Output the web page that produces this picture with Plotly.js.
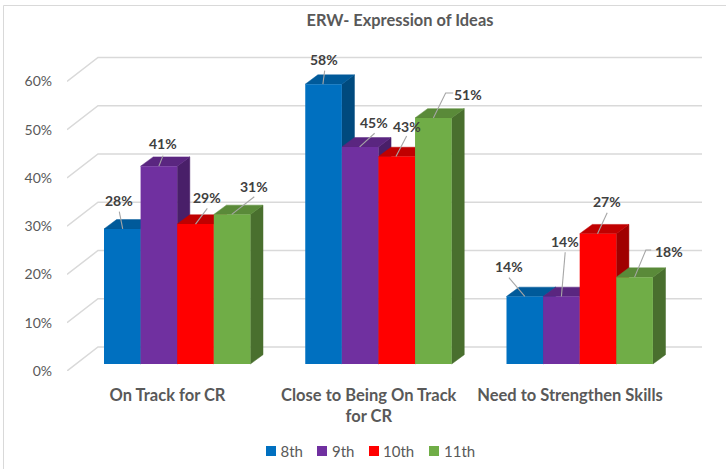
<!DOCTYPE html>
<html><head><meta charset="utf-8">
<script src="https://cdn.plot.ly/plotly-3.0.1.min.js"></script>
<style>html,body{margin:0;padding:0;background:#fff}#c{width:726px;height:469px}</style>
</head><body><div id="c"></div>
<script>
// ---- data ----
const categories = ["On Track for CR", "Close to Being On Track<br>for CR", "Need to Strengthen Skills"];
const seriesNames = ["8th", "9th", "10th", "11th"];
const grade8  = [28, 58, 14];
const grade9  = [41, 45, 14];
const grade10 = [29, 43, 27];
const grade11 = [31, 51, 18];
const yTicks  = [0, 10, 20, 30, 40, 50, 60];

// ---- styles ----
const frontColors = ["#0070C0", "#7030A0", "#FF0000", "#70AD47"];
const topColors   = ["#005A9A", "#5A2680", "#C00000", "#5A8A39"];
const sideColors  = ["#004A7E", "#491F69", "#A00000", "#496F2E"];
const gridColor = "#D9D9D9", leaderColor = "#A6A6A6";
const textDark = "#404040", textMid = "#595959";
const FONT = "Lato, 'Open Sans', sans-serif";

// ---- geometry (px to axis units) ----
const W = 726, H = 469, L = 67, R = 702, T = 40, B = 371;
const pxX = 201.25, pxY = 4.825;
const x0px = 167.5;
const barW = 36.6 / pxX;
const groupShift = (104 - x0px) / pxX;
const depthX = 12.6 / pxX, depthY = 9.3 / pxY;
const lift = 7 / pxY;
const wallX = 31 / pxX, wallY = 24 / pxY;
const xRange = [(L - x0px) / pxX, (R - x0px) / pxX];
const yMax = (B - T) / pxY;

const series = [grade8, grade9, grade10, grade11];

// label offsets in px from the top-centre of each bar's front: [labelDx,labelDy, leader path]
const labelPlace = [
  [[-3.3,-28.2,[[-3,-17.2],[0.4,0]]], [0.7,-24.2,[[1.1,-13.5],[-0.6,0]]], [-15.9,-29.5,[[-15.9,-18.8],[0,0]]]],
  [[3.8,-22.2,[[4.1,-10.5],[0,0]]], [13.8,-24.2,[[14.5,-13.6],[-0.5,0]]], [3.8,-55.2,[[3.8,-44.2],[0,0]]]],
  [[11.8,-26.7,[[11.8,-15.7],[0,0]]], [9.9,-30.5,[[9.9,-20.5],[-0.8,0]]], [8.9,-32.7,[[9.2,-21],[-0.5,0]]]],
  [[21.9,-28.4,[[22.2,-17.7],[-0.4,0]]], [34.9,-23.6,[[19.9,-24.9],[12.3,-24.9],[0,0]]], [33.9,-25.5,[[16.6,-27.2],[11.3,-27.2],[0,0]]]]
];

// legend entry placement in px
const legendSwatchX = [271, 322, 374, 434];
const legendTextX   = [280.5, 332, 383, 444];
const legendY = 451;

const traces = [];

const gx = [], gy = [];
yTicks.forEach(v => {
  gx.push(xRange[0], xRange[0] + wallX, xRange[1], null);
  gy.push(v, v + wallY, v + wallY, null);
});
traces.push({type:"scatter", mode:"lines", x:gx, y:gy, xaxis:"x", yaxis:"y", showlegend:false,
  hoverinfo:"skip", line:{color:gridColor, width:1.5}});

series.forEach((vals, i) => {
  const sx = [], sy = [], tx = [], ty = [];
  vals.forEach((v, j) => {
    const left = j + groupShift + i * barW, right = left + barW;
    const top = v + lift;
    sx.push(right, right + depthX, right + depthX, right, right, null);
    sy.push(lift, lift + depthY, top + depthY, top, lift, null);
    tx.push(left, left + depthX, right + depthX, right, left, null);
    ty.push(top, top + depthY, top + depthY, top, top, null);
  });
  const face = (x, y, c) => ({type:"scatter", mode:"lines", x, y, xaxis:"x", yaxis:"y", fill:"toself",
    fillcolor:c, line:{color:c, width:0.5}, showlegend:false, hoverinfo:"skip"});
  traces.push(face(sx, sy, sideColors[i]));
  traces.push(face(tx, ty, topColors[i]));
});

series.forEach((vals, i) => {
  traces.push({type:"bar", name:seriesNames[i], x:[0,1,2], y:vals, xaxis:"x", yaxis:"y2",
    width:barW, offset:groupShift + i * barW,
    marker:{color:frontColors[i], line:{width:0}}, hoverinfo:"name+y"});
});

const lx = [], ly = [], annotations = [];
series.forEach((vals, i) => {
  vals.forEach((v, j) => {
    const cx = j + groupShift + (i + 0.5) * barW;
    const p = labelPlace[i][j];
    p[2].forEach(pt => { lx.push(cx + pt[0] / pxX); ly.push(v - pt[1] / pxY); });
    lx.push(null); ly.push(null);
    annotations.push({xref:"x", yref:"y2", x:cx, y:v, xshift:p[0], yshift:-p[1], text:v + "%",
      showarrow:false, xanchor:"center", yanchor:"middle",
      font:{family:FONT, size:14, color:textDark, weight:700}});
  });
});
traces.push({type:"scatter", mode:"lines", x:lx, y:ly, xaxis:"x", yaxis:"y2", showlegend:false,
  hoverinfo:"skip", line:{color:leaderColor, width:1.1}});

const layout = {
  width:W, height:H, paper_bgcolor:"#fff", plot_bgcolor:"rgba(0,0,0,0)",
  margin:{l:L, r:W - R, t:T, b:H - B},
  barmode:"overlay",
  title:{text:"ERW- Expression of Ideas", xref:"container", yref:"container", x:400/W, y:1 - 20/H,
    xanchor:"center", yanchor:"middle", font:{family:FONT, size:16.4, color:textMid, weight:700}},
  xaxis:{range:xRange, tickvals:[0,1,2], ticktext:categories, showgrid:false, zeroline:false, showline:false,
    ticks:"", ticklabelstandoff:12, tickangle:0, tickfont:{family:FONT, size:16.5, color:textMid, weight:700}},
  yaxis:{range:[0, yMax], tickvals:yTicks, ticktext:yTicks.map(v => v + "%"), showgrid:false, zeroline:false,
    showline:false, ticks:"", ticklabelstandoff:14, tickfont:{family:FONT, size:14, color:textMid}},
  yaxis2:{range:[-lift, yMax - lift], overlaying:"y", visible:false, showgrid:false, zeroline:false},
  legend:{orientation:"h", xref:"container", yref:"container", x:371/W, xanchor:"center", y:1 - legendY/H, yanchor:"middle",
    traceorder:"normal", font:{family:FONT, size:15, color:textMid}, bgcolor:"rgba(0,0,0,0)"},
  annotations,
  shapes:[
    {type:"line", xref:"paper", yref:"paper", x0:(3.5-L)/(R-L), x1:1.05, y0:1+(T-5.5)/(B-T), y1:1+(T-5.5)/(B-T), line:{color:gridColor, width:1}},
    {type:"line", xref:"paper", yref:"paper", x0:(3.5-L)/(R-L), x1:(3.5-L)/(R-L), y0:1+(T-5.5)/(B-T), y1:-0.4, line:{color:gridColor, width:1}}
  ]
};
Plotly.newPlot("c", traces, layout, {displayModeBar:false, responsive:false}).then(gd => {
  // tighten the legend: compact swatches next to their text, as in the reference
  const leg = gd.querySelector(".legend");
  if (!leg) return;
  leg.setAttribute("transform", "translate(0,0)");
  const box = leg.querySelector(".scrollbox");
  if (box) { box.removeAttribute("clip-path"); box.style.clipPath = "none"; box.setAttribute("transform", "translate(0,0)"); }
  const bg = leg.querySelector(".bg");
  if (bg) bg.style.display = "none";
  leg.querySelectorAll(".traces").forEach((g, k) => {
    g.setAttribute("transform", "translate(0," + legendY + ")");
    g.querySelectorAll(".legendpoints path").forEach(p => {
      p.setAttribute("d", "M5,5H-5V-5H5Z");
      p.setAttribute("transform", "translate(" + legendSwatchX[k] + ",0)");
    });
    const t = g.querySelector(".legendtext");
    if (t) t.setAttribute("x", legendTextX[k]);
  });
});
</script></body></html>
